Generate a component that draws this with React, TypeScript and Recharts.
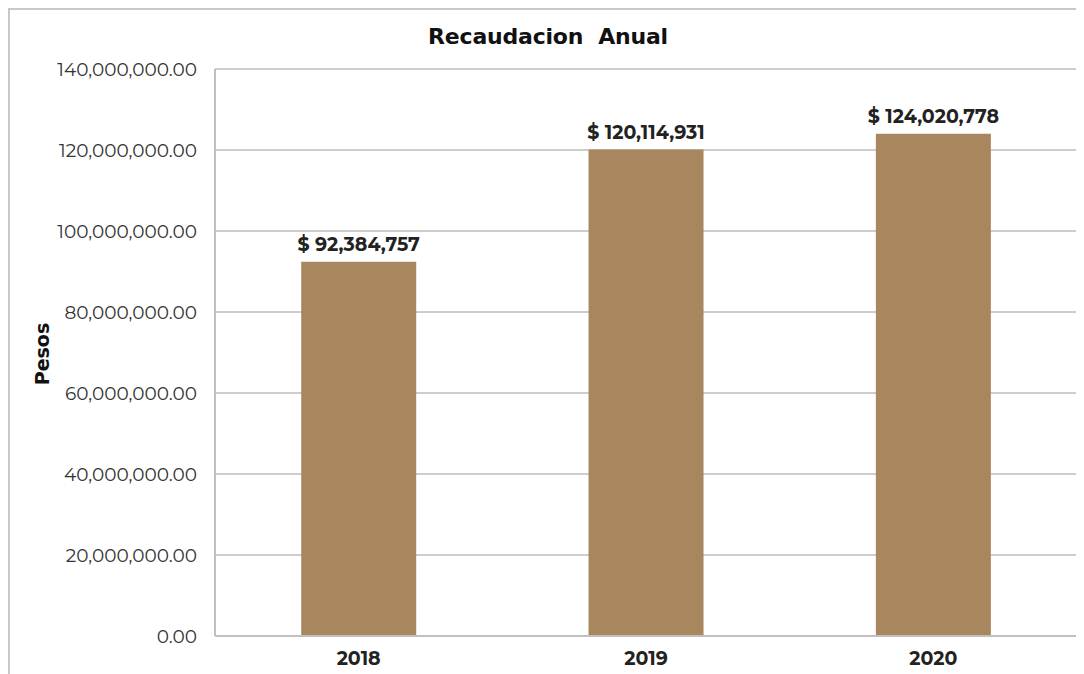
import React from "react";
import { BarChart, Bar, XAxis, YAxis, CartesianGrid, LabelList } from "recharts";

const years = ["2018", "2019", "2020"];
const recaudacion = [92384757, 120114931, 124020778];
const yTicks = [0, 20000000, 40000000, 60000000, 80000000, 100000000, 120000000, 140000000];

const data = years.map((year, i) => ({ year, value: recaudacion[i] }));

const FONT = "Montserrat, 'Open Sans', Lato, sans-serif";

const formatTick = (v: number) =>
  v.toLocaleString("en-US", { minimumFractionDigits: 2, maximumFractionDigits: 2 });

const formatLabel = (v: number) => `$ ${Math.round(v).toLocaleString("en-US")}`;

const PesosLabel = () => (
  <text
    x={32}
    y={344}
    transform="rotate(-90, 32, 344)"
    textAnchor="middle"
    dominantBaseline="central"
    fontFamily="'DejaVu Sans', sans-serif"
    fontWeight={900}
    fontSize={19}
    fill="#111"
  >
    Pesos
  </text>
);

export default function App() {
  return (
    <div
      style={{
        width: 1076,
        height: 666,
        borderTop: "2px solid #c8c8c8",
        borderLeft: "2px solid #c8c8c8",
        boxSizing: "border-box",
        position: "relative",
        background: "#fff",
      }}
    >
      <div
        style={{
          position: "absolute",
          top: 14,
          left: 0,
          width: 1076,
          textAlign: "center",
          fontFamily: "'DejaVu Sans', sans-serif",
          fontWeight: 900,
          fontSize: 22,
          color: "#111",
          letterSpacing: -0.2,
        }}
      >
        Recaudacion&nbsp;&nbsp;Anual
      </div>
      <BarChart
        width={1074}
        height={664}
        data={data}
        margin={{ top: 59, right: 7, left: 0, bottom: 0 }}
        barCategoryGap="30%"
      >
        <CartesianGrid horizontal vertical={false} stroke="#9a9a9a" />
        <XAxis
          dataKey="year"
          height={38}
          tickLine={false}
          axisLine={{ stroke: "#c0c0c0", strokeWidth: 2 }}
          tickMargin={10}
          tick={{ fontFamily: FONT, fontWeight: 700, fontSize: 19, fill: "#222" }}
        />
        <YAxis
          width={205}
          domain={[0, 140000000]}
          ticks={yTicks}
          tickFormatter={formatTick}
          tickLine={false}
          axisLine={{ stroke: "#c0c0c0", strokeWidth: 2 }}
          tickMargin={12}
          tick={{ fontFamily: FONT, fontSize: 18.5, fill: "#333" }}
          label={<PesosLabel />}
        />
        <Bar dataKey="value" fill="#a8875f" isAnimationActive={false}>
          <LabelList
            dataKey="value"
            position="top"
            offset={11}
            formatter={(v: number) => formatLabel(v)}
            style={{ fontFamily: FONT, fontWeight: 700, fontSize: 19, fill: "#222" }}
          />
        </Bar>
      </BarChart>
    </div>
  );
}
